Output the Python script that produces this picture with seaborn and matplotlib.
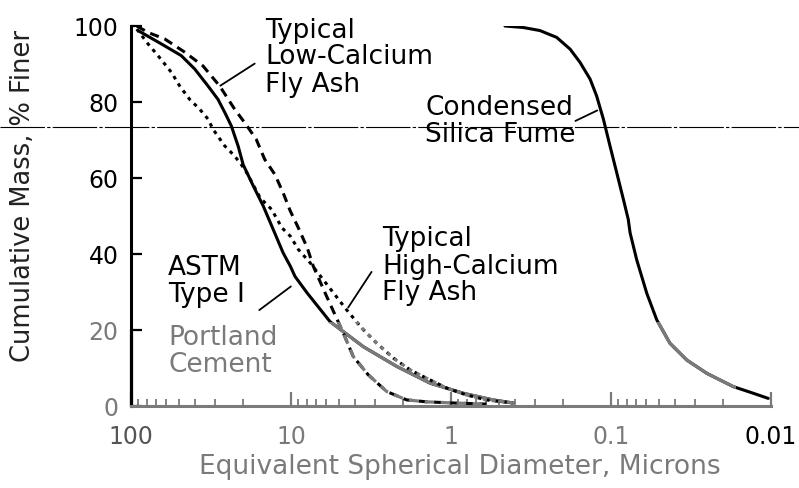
import numpy as np
import pandas as pd
import matplotlib
matplotlib.use("Agg")
import matplotlib.pyplot as plt
from matplotlib.patches import Rectangle
import seaborn as sns

# Particle size distributions (diameter in microns, % finer)
cement_d = [90.4, 64.7, 48.5, 40.0, 33.0, 28.6, 25.9, 23.6, 21.4, 19.9, 17.2, 14.9, 12.9,
            11.2, 10.1, 9.44, 7.91, 5.70, 3.53, 2.18, 1.35, 0.837, 0.546, 0.41]
cement_pct = [98.8, 95.3, 92.2, 88.7, 84.2, 80.7, 77.2, 73.7, 68.4, 63.5, 57.9, 52.6, 46.4,
              40.3, 36.8, 34.1, 29.7, 22.2, 15.6, 10.4, 6.0, 3.35, 1.6, 0.8]

low_ca_d = [92, 78.3, 61.6, 46.1, 35.5, 27.9, 22.5, 19.5, 16.5, 14.6, 12.6, 11.2, 10.1,
            9.0, 7.91, 7.26, 5.98, 4.71, 4.08, 3.29, 2.52, 1.89, 1.42, 0.98, 0.6]
low_ca_pct = [100, 98.3, 96.6, 93.1, 89.5, 84.2, 78.1, 74.6, 70.2, 64.9, 60.9, 56.1, 51.3,
              46.9, 41.6, 36.8, 28.8, 19.2, 13.0, 8.2, 3.8, 1.6, 1.1, 0.8, 0.5]

high_ca_d = [92, 78.3, 67.8, 55.9, 49.6, 43.0, 37.2, 33.0, 30.7, 25.9, 23.0, 20.8, 18.9,
             15.6, 13.2, 11.4, 10.1, 9.0, 7.6, 4.49, 3.61, 2.91, 2.29, 1.80, 1.42, 1.06,
             0.80, 0.60, 0.41]
high_ca_pct = [99.2, 95.3, 92.2, 87.8, 84.2, 80.7, 78.1, 75.5, 72.8, 68.4, 66.2, 64.0, 61.4,
               54.8, 51.7, 46.9, 44.7, 41.2, 37.7, 25.3, 20.5, 16.5, 12.6, 9.5, 7.3, 4.7,
               2.9, 1.6, 0.8]

fume_d = [0.46, 0.353, 0.278, 0.2185, 0.180, 0.156, 0.135, 0.123, 0.1116, 0.1014, 0.0921,
          0.0837, 0.078, 0.076, 0.0691, 0.0598, 0.0518, 0.0428, 0.0336, 0.0252, 0.0172,
          0.0129, 0.0104]
fume_pct = [100, 99.6, 98.8, 97.0, 93.9, 90.4, 86.0, 81.6, 75.5, 68.4, 61.4,
            54.4, 49.1, 45.6, 38.5, 29.7, 22.7, 16.5, 12.1, 8.6, 5.1,
            3.35, 2.0]

x_ticks = [100, 10, 1, 0.1, 0.01]
x_labels = ["100", "10", "1", "0.1", "0.01"]
y_ticks = [0, 20, 40, 60, 80, 100]

sns.set_style("ticks")
plt.rcParams["font.family"] = ["DejaVu Sans"]
plt.rcParams["text.color"] = "black"
plt.rcParams["axes.labelcolor"] = "black"
plt.rcParams["xtick.color"] = "black"
plt.rcParams["ytick.color"] = "black"

GRAY = "#7a7a7a"

fig = plt.figure(figsize=(7.99, 4.89), dpi=100)
ax = fig.add_axes([131 / 799, 1 - 407 / 489, 640 / 799, 380 / 489])

curves = [
    (cement_d, cement_pct, "-"),
    (low_ca_d, low_ca_pct, (0, (3, 2))),
    (high_ca_d, high_ca_pct, (0, (1.2, 1.6))),
    (fume_d, fume_pct, "-"),
]
# the lower band of the scanned figure is printed in gray
band = Rectangle((0.0165, -5), 120, 27, transform=ax.transData)
for xs, ys, ls in curves:
    sns.lineplot(x=xs, y=ys, ax=ax, color="black", lw=2.2, sort=False, linestyle=ls)
    sns.lineplot(x=xs, y=ys, ax=ax, color=GRAY, lw=2.3, sort=False, linestyle=ls)
    ax.lines[-1].set_clip_path(band)

ax.set_xscale("log")
ax.set_xlim(100, 0.01)
ax.set_ylim(0, 100)
ax.set_xticks(x_ticks)
ax.set_xticklabels(x_labels)
ax.set_yticks(y_ticks)

for sp in ["top", "right"]:
    ax.spines[sp].set_visible(False)
ax.spines["left"].set_linewidth(2.2)
ax.spines["left"].set_color("black")
ax.spines["bottom"].set_linewidth(2.2)
ax.spines["bottom"].set_color(GRAY)
ax.axvline(100, ymin=0, ymax=0.2, color=GRAY, lw=2.4, clip_on=False)

ax.tick_params(axis="y", direction="in", length=8, width=1.6, pad=9, labelsize=17)
ax.tick_params(axis="x", which="major", direction="in", length=10, width=1.6, pad=13,
               labelsize=17, color=GRAY)
ax.tick_params(axis="x", which="minor", direction="in", length=5, width=1.3, color=GRAY)
for t, c in zip(ax.get_xticklabels(), ["#555555", GRAY, GRAY, GRAY, "black"]):
    t.set_color(c)
for t, c in zip(ax.get_yticklabels(), [GRAY, GRAY, "black", "black", "black", "black"]):
    t.set_color(c)

ax.set_xlabel("Equivalent Spherical Diameter, Microns", fontsize=19, color=GRAY)
ax.xaxis.set_label_coords(0.514, -0.125)
ax.set_ylabel("Cumulative Mass, % Finer", fontsize=18.5, color="#222222")
ax.yaxis.set_label_coords(-0.148, 0.555)

# labels with leader lines
fs = 19
lsp = 1.05
ax.text(14.5, 102.5, "Typical\nLow-Calcium\nFly Ash", fontsize=fs, va="top", ha="left",
        linespacing=lsp)
ax.annotate("", xy=(28.6, 83.9), xytext=(16.3, 90.5),
            arrowprops=dict(arrowstyle="-", color="black", lw=1.3))
ax.text(1.45, 82, "Condensed\nSilica Fume", fontsize=fs, va="top", ha="left", linespacing=lsp)
ax.annotate("", xy=(0.1175, 78.1), xytext=(0.173, 74.7),
            arrowprops=dict(arrowstyle="-", color="black", lw=1.3))
ax.text(2.7, 47.5, "Typical\nHigh-Calcium\nFly Ash", fontsize=fs, va="top", ha="left",
        linespacing=lsp)
ax.annotate("", xy=(3.07, 35.9), xytext=(4.49, 25.3),
            arrowprops=dict(arrowstyle="-", color="black", lw=1.3))
ax.text(58.7, 40, "ASTM\nType I", fontsize=fs, va="top", ha="left", linespacing=lsp)
ax.text(58.7, 21.5, "Portland\nCement", fontsize=fs, va="top", ha="left", linespacing=lsp,
        color=GRAY)
ax.annotate("", xy=(9.7, 31.9), xytext=(16.3, 24.8),
            arrowprops=dict(arrowstyle="-", color="black", lw=1.3))

# thin scan line running across the page
ax.axhline(73.3, xmin=-131 / 640, xmax=668 / 640, clip_on=False, color="black", lw=0.8,
           linestyle=(0, (40, 2, 3, 2)))

fig.savefig("out.png", dpi=100)
